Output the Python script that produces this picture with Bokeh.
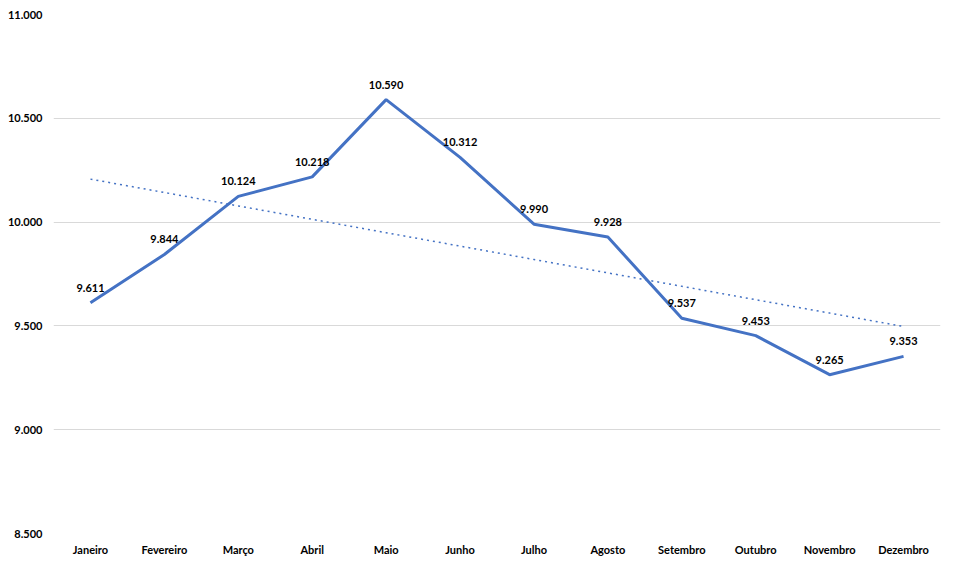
import numpy as np
from bokeh.plotting import figure
from bokeh.models import FactorRange, Range1d, CustomJSTickFormatter, ColumnDataSource
from bokeh.core.properties import value
from bokeh.embed import file_html
from bokeh.resources import INLINE

months = ["Janeiro", "Fevereiro", "Março", "Abril", "Maio", "Junho", "Julho",
          "Agosto", "Setembro", "Outubro", "Novembro", "Dezembro"]
values = [9611, 9844, 10124, 10218, 10590, 10312, 9990, 9928, 9537, 9453, 9265, 9353]
y_ticks = [8500, 9000, 9500, 10000, 10500, 11000]

labels = ["{:,}".format(v).replace(",", ".") for v in values]

# linear trendline (least squares fit of the series)
xs = np.arange(1, len(values) + 1)
slope, intercept = np.polyfit(xs, values, 1)
trend = list(slope * xs + intercept)

FONT = "Lato"
BLUE = "#4472C4"
GRID = "#d9d9d9"

p = figure(width=947, height=558, x_range=FactorRange(*months, range_padding=0),
           y_range=Range1d(8500, 11000), output_backend="svg", toolbar_location=None,
           min_border_left=53, min_border_right=7, min_border_top=14, min_border_bottom=24)

src = ColumnDataSource(dict(m=months, v=values, lab=labels, t=trend))

p.line(x=[m for m in months], y=trend, line_color=BLUE, line_width=1.5, line_dash="dotted")
p.line("m", "v", source=src, line_color=BLUE, line_width=3)
p.text("m", "v", text="lab", source=src, text_align="center", text_baseline="bottom",
       y_offset=-11, text_font=value(FONT), text_font_size="11px", text_font_style="bold",
       text_color="black")

p.yaxis.ticker = y_ticks
p.yaxis.formatter = CustomJSTickFormatter(
    code="return tick.toFixed(0).replace(/\\B(?=(\\d{3})+(?!\\d))/g, '.');")
for ax in (p.xaxis, p.yaxis):
    ax.axis_line_color = None
    ax.major_tick_line_color = None
    ax.minor_tick_line_color = None
    ax.major_label_text_font = FONT
    ax.major_label_text_font_size = "11px"
    ax.major_label_text_font_style = "bold"
    ax.major_label_text_color = "black"
p.yaxis.major_label_standoff = 5
p.xaxis.major_label_standoff = 3

p.xgrid.grid_line_color = None
p.ygrid.grid_line_color = GRID
p.ygrid.ticker = y_ticks
p.outline_line_color = None
p.background_fill_color = "white"
p.border_fill_color = "white"

open("out.html", "w").write(file_html(p, INLINE))
